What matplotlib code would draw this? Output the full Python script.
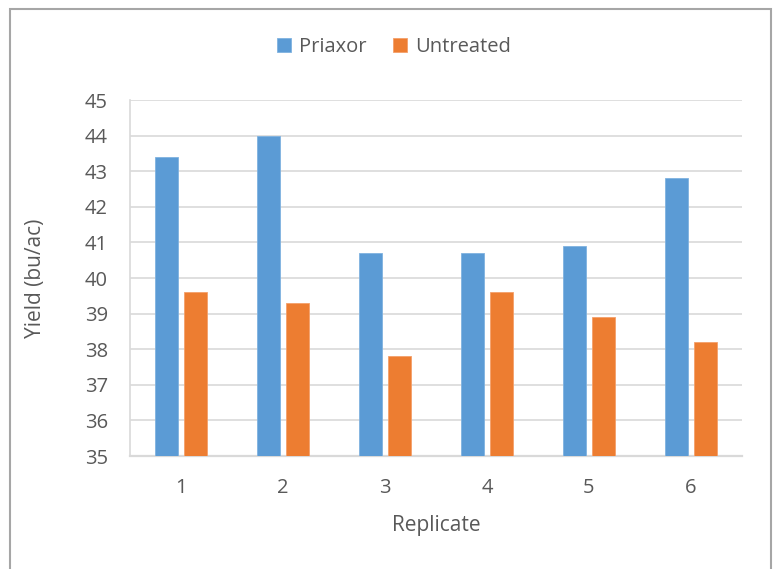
import matplotlib
matplotlib.use("Agg")
import matplotlib.pyplot as plt
import numpy as np
from matplotlib.patches import Rectangle

replicates = ["1", "2", "3", "4", "5", "6"]
priaxor = [43.4, 44.0, 40.7, 40.7, 40.9, 42.8]
untreated = [39.6, 39.3, 37.8, 39.6, 38.9, 38.2]
yticks = [35, 36, 37, 38, 39, 40, 41, 42, 43, 44, 45]

plt.rcParams['font.family'] = ['Open Sans', 'DejaVu Sans']
txt = '#595959'

fig = plt.figure(figsize=(7.75, 5.69), dpi=100)
ax = fig.add_axes([130/775, 1-456/569, 612/775, 356/569])

x = np.arange(len(replicates))
w = 0.225
ax.bar(x - 0.145, priaxor, w, color='#5B9BD5', edgecolor='#7fb2e0', linewidth=0.6, label='Priaxor', zorder=3)
ax.bar(x + 0.145, untreated, w, color='#ED7D31', edgecolor='#f4a06a', linewidth=0.6, label='Untreated', zorder=3)

ax.set_ylim(35, 45)
ax.set_xlim(-0.5, 5.5)
ax.set_yticks(yticks)
ax.set_xticks(x)
ax.set_xticklabels(replicates)
ax.tick_params(axis='both', length=0, labelsize=14.5, colors=txt)
ax.tick_params(axis='y', pad=16)
ax.tick_params(axis='x', pad=16)
ax.grid(axis='y', color='#d9d9d9', linewidth=1.2, zorder=0)
for s in ['top', 'right']:
    ax.spines[s].set_visible(False)
ax.spines['left'].set_color('#d9d9d9')
ax.spines['left'].set_linewidth(1.2)
ax.spines['bottom'].set_color('#d9d9d9')
ax.spines['bottom'].set_linewidth(1.6)

fig.text(36/775, 1-278/569, 'Yield (bu/ac)', rotation=90, ha='center', va='center', fontsize=15, color=txt)
fig.text(436/775, 1-525/569, 'Replicate', ha='center', va='center', fontsize=15, color=txt)

fig.legend(loc='center', bbox_to_anchor=(394/775, 1-47/569), ncol=2, frameon=False,
           fontsize=14.5, handlelength=0.7, handleheight=0.7, handletextpad=0.4,
           columnspacing=1.3, labelcolor=txt)

fig.patches.append(Rectangle((10/775, -0.1), 761/775, (569-9)/569 + 0.1,
                             transform=fig.transFigure, fill=False,
                             edgecolor='#a6a6a6', linewidth=1.5))

fig.savefig('out.png', dpi=100)
